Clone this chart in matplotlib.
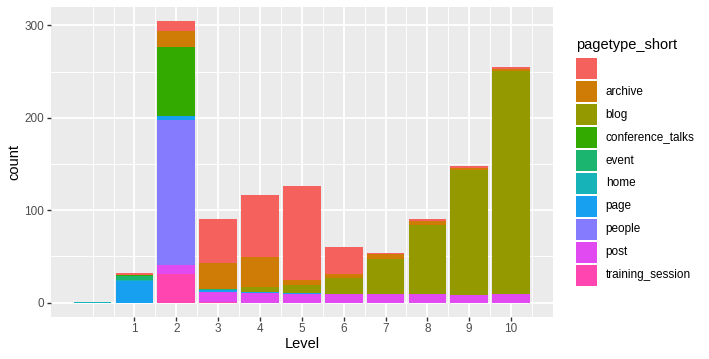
import matplotlib
matplotlib.use("Agg")
import matplotlib.pyplot as plt
from matplotlib.patches import Rectangle
import numpy as np

plt.rcParams['font.family'] = ['Liberation Sans', 'DejaVu Sans']

# data: counts per Level (0..10) for each page type
levels = [0, 1, 2, 3, 4, 5, 6, 7, 8, 9, 10]
tick_labels = ["1", "2", "3", "4", "5", "6", "7", "8", "9", "10"]
pagetypes = ["", "archive", "blog", "conference_talks", "event", "home",
             "page", "people", "post", "training_session"]
blank = [0, 2, 11, 48, 67, 102, 29, 1, 2, 2, 2]
archive = [0, 0, 17, 28, 32, 5, 4, 6, 4, 2, 2]
blog = [0, 0, 0, 0, 5, 9, 18, 38, 75, 136, 242]
conference_talks = [0, 1, 75, 0, 0, 0, 0, 0, 0, 0, 0]
event = [0, 4, 0, 1, 0, 0, 0, 0, 0, 0, 0]
home = [1, 2, 0, 0, 0, 0, 0, 0, 0, 0, 0]
page = [0, 23, 4, 2, 2, 1, 0, 0, 0, 0, 0]
people = [0, 0, 157, 0, 0, 0, 0, 0, 0, 0, 0]
post = [0, 0, 10, 11, 10, 9, 9, 9, 9, 8, 9]
training_session = [0, 0, 31, 1, 0, 0, 0, 0, 0, 0, 0]

colors = ["#F5625D", "#CF7C06", "#949900", "#33AA00", "#1BB56F",
          "#16B3B8", "#17A0F0", "#857BFF", "#E04AF0", "#FF46B0"]
series = [blank, archive, blog, conference_talks, event, home,
          page, people, post, training_session]

W, H = 709, 359
fig = plt.figure(figsize=(W / 100, H / 100), dpi=100)
left, right, top, bottom = 51, 552.7, 6.7, 316.7
ax = fig.add_axes([left / W, (H - bottom) / H, (right - left) / W, (bottom - top) / H])
ax.set_facecolor("#EBEBEB")

# ggplot stacks first level on top -> draw from last level upward
base = np.zeros(len(levels))
for vals, col in list(zip(series, colors))[::-1]:
    v = np.array(vals, dtype=float)
    ax.bar(levels, v, bottom=base, width=0.9, color=col, linewidth=0, zorder=3)
    base += v

ax.set_xlim(-0.995, 10.995)
ax.set_ylim(-15.25, 320.25)
ax.set_xticks(range(1, 11))
ax.set_xticklabels(tick_labels)
ax.set_xticks(np.arange(0, 11, 0.5)[[i for i in range(22) if i % 2 == 0 and i == 0 or i % 2 == 1]], minor=True)
ax.set_yticks([0, 100, 200, 300])
ax.set_yticks([50, 150, 250], minor=True)
ax.grid(which="major", color="white", linewidth=1.36, zorder=1)
ax.grid(which="minor", color="white", linewidth=0.68, zorder=1)
ax.set_axisbelow(True)
for s in ax.spines.values():
    s.set_visible(False)
ax.tick_params(which="major", length=2.6, width=1.0, color="#333333",
               labelcolor="#4D4D4D", labelsize=8.45, pad=2.2)
ax.tick_params(which="minor", length=0)

fig.text(301.9 / W, 1 - 344 / H, "Level", ha="center", va="center", fontsize=10.5)
fig.text(14 / W, 1 - 161.7 / H, "count", ha="center", va="center", fontsize=10.5, rotation=90)

# legend
fig.text(576 / W, 1 - 45 / H, "pagetype_short", ha="left", va="center", fontsize=10.5)
for i, (name, col) in enumerate(zip(pagetypes, colors)):
    y0 = 58.3 + 22.95 * i
    fig.add_artist(Rectangle((576 / W, 1 - (y0 + 20.8) / H), 20.7 / W, 20.8 / H,
                             transform=fig.transFigure, facecolor=col, edgecolor="none"))
    fig.text(605.7 / W, 1 - (y0 + 10.4) / H, name, ha="left", va="center", fontsize=8.45)

fig.savefig("out.png", dpi=100)
